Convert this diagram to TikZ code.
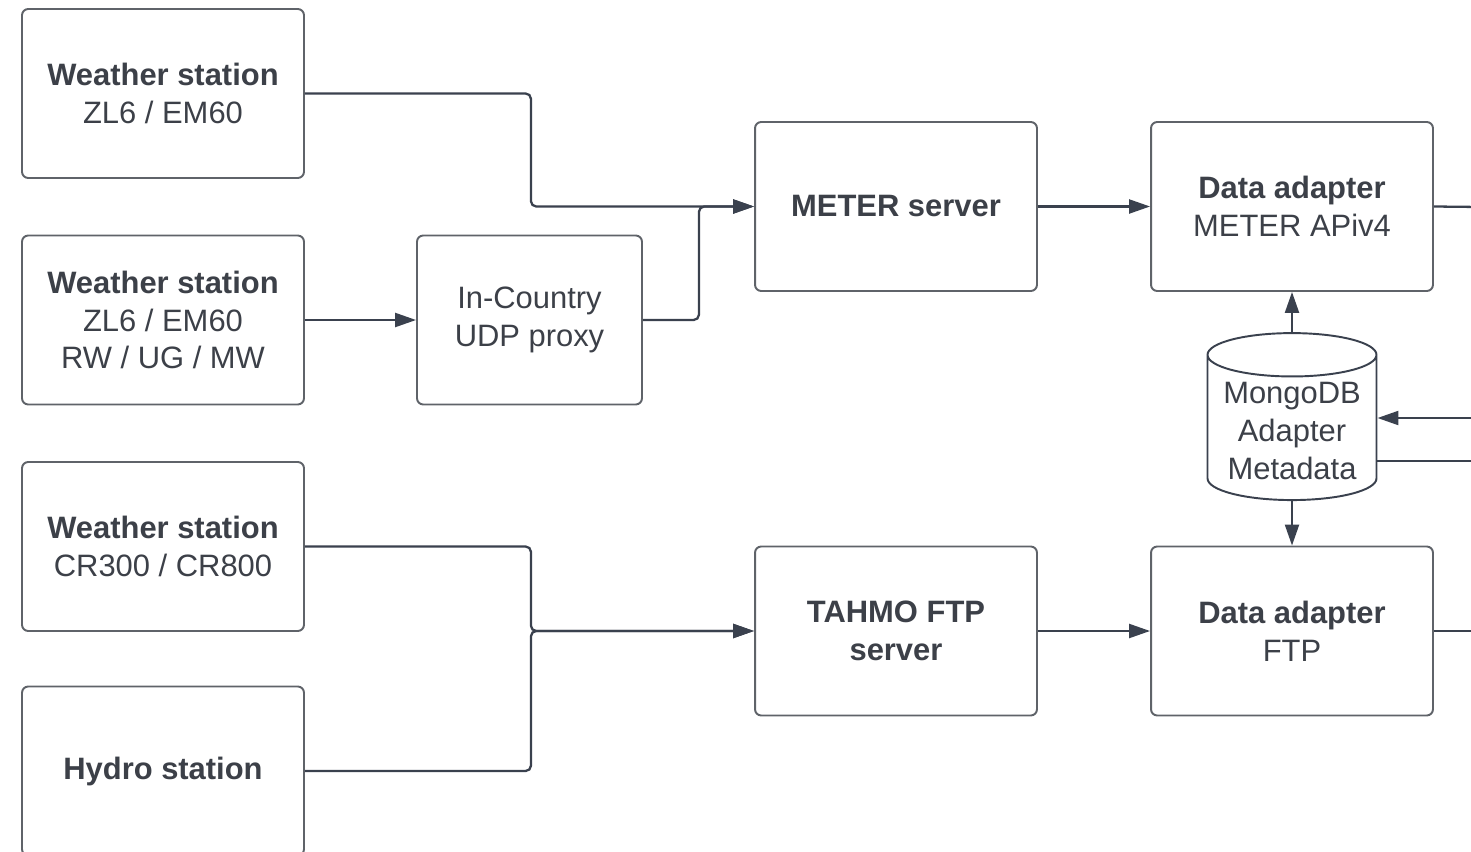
\documentclass[tikz,border=0pt]{standalone}
\usepackage{fontspec}
\setmainfont{Liberation Sans}
\usepackage{xcolor}
\definecolor{line-dark}{RGB}{58,65,78}
\definecolor{box-gray}{RGB}{95,99,105}
\definecolor{text-dark}{RGB}{60,64,72}
\usetikzlibrary{arrows.meta,shapes.geometric}

\begin{document}
\begin{tikzpicture}[
    x=0.02cm, y=-0.02cm,
    unit box/.style={
        draw=box-gray,
        line width=1.1pt,
        fill=white,
        rounded corners=3.5pt,
        minimum width=5.64cm,
        minimum height=3.38cm,
        inner sep=4pt,
        align=center,
        text=text-dark,
        font=\fontsize{17.6pt}{21.5pt}\selectfont
    },
    proxy box/.style={
        unit box,
        minimum width=4.5cm
    },
    db/.style={
        cylinder,
        shape border rotate=90,
        aspect=0.3,
        draw=line-dark,
        line width=1.1pt,
        fill=white,
        minimum width=3.38cm,
        minimum height=3.34cm,
        inner sep=2pt,
        align=center,
        text=text-dark,
        font=\fontsize{17.6pt}{21.5pt}\selectfont
    },
    link/.style={line-dark, line width=1.3pt, rounded corners=3pt},
    arrow/.style={link, -{Triangle[length=0.42cm,width=0.28cm]}}
]

% Frame (the picture is cut at the right and bottom)
\useasboundingbox (0,0) rectangle (1471,852);
\clip (0,0) rectangle (1471,852);

% Stations
\node[unit box] (ws1) at (163,93.5) {\textbf{Weather station}\\ZL6 / EM60};
\node[unit box] (ws2) at (163,320) {\textbf{Weather station}\\ZL6 / EM60\\RW / UG / MW};
\node[unit box] (ws3) at (163,546.5) {\textbf{Weather station}\\CR300 / CR800};
\node[unit box] (hydro) at (163,771) {\textbf{Hydro station}};

% Proxy
\node[proxy box] (proxy) at (529.5,320) {In-Country\\UDP proxy};

% Servers
\node[unit box] (meter) at (896,206.5) {\textbf{METER server}};
\node[unit box] (tahmo) at (896,631) {\textbf{TAHMO FTP}\\\textbf{server}};

% Data adapters
\node[unit box] (adapt1) at (1292,206.5) {\textbf{Data adapter}\\METER APiv4};
\node[unit box] (adapt2) at (1292,631) {\textbf{Data adapter}\\FTP};

% Metadata store
\node[db] (mongo) at (1292,431) {MongoDB\\Adapter\\Metadata};

% Loose ends on the right edge
\coordinate (out1) at (1480,207);
\coordinate (out2) at (1480,631);
\coordinate (in3) at (1480,418);
\coordinate (out3) at (1480,461);

% METER branch
\draw[arrow] (ws1.east) -- ++(226,0) |- (meter.west);
\draw[arrow] (ws2.east) -- (proxy.west);
\draw[arrow] (proxy.east) -- ++(56,0) |- (meter.west);
\draw[arrow] (meter.east) -- (adapt1.west);
\draw[link] (adapt1.east) -- (out1);

% FTP branch
\draw[arrow] (ws3.east) -- ++(226,0) |- (tahmo.west);
\draw[arrow] (hydro.east) -- ++(226,0) |- (tahmo.west);
\draw[arrow] (tahmo.east) -- (adapt2.west);
\draw[link] (adapt2.east) -- (out2);

% Metadata links
\draw[arrow] (mongo.top) -- (adapt1.south);
\draw[arrow] (mongo.bottom) -- (adapt2.north);
\draw[arrow] (in3) -- (in3 -| mongo.east);
\draw[link] (out3 -| mongo.east) -- (out3);

\end{tikzpicture}
\end{document}
